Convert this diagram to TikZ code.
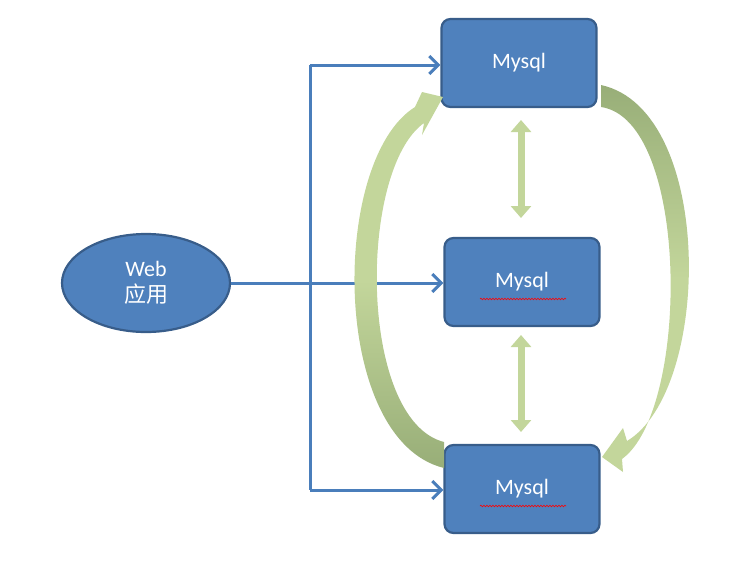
\documentclass[tikz,border=0pt]{standalone}
\usepackage{fontspec}
\setmainfont{Carlito}
\newfontfamily\cjk{Noto Sans CJK SC}
\usetikzlibrary{shapes.geometric,arrows.meta,decorations.pathmorphing}
\definecolor{bfill}{HTML}{4F81BD}
\definecolor{bdraw}{HTML}{385D8A}
\definecolor{lnk}{HTML}{4A7EBB}
\definecolor{lg}{HTML}{C3D69B}
\definecolor{dg}{HTML}{98AE78}
\begin{document}
\begin{tikzpicture}[x=1pt,y=-1pt,
  box/.style={draw=bdraw,line width=2.2pt,fill=bfill,rounded corners=9pt,minimum width=155pt,minimum height=88pt,text=white,font=\fontsize{22}{24}\selectfont},
  conn/.style={draw=lnk,line width=3pt,-{Straight Barb[length=9pt,width=18pt,line width=3pt]}},
  dbl/.style={draw=lg,line width=7pt,{Triangle[length=12pt,width=20pt]}-{Triangle[length=12pt,width=20pt]},shorten <=0pt,shorten >=0pt},
  squig/.style={draw=red,line width=0.6pt,decorate,decoration={snake,amplitude=0.8pt,segment length=3pt}}]
\useasboundingbox (0,0) rectangle (754,565);
\node[ellipse,draw=bdraw,line width=2.2pt,fill=bfill,minimum width=168pt,minimum height=98pt,text=white,align=center,font=\fontsize{22}{26}\selectfont] (web) at (146,283) {Web\\{\cjk 应用}};
\node[box] (m1) at (519,63) {Mysql};
\node[box] (m2) at (522,282) {Mysql};
\node[box] (m3) at (522,489) {Mysql};
\draw[squig] (480,299) -- (566,299);
\draw[squig] (480,506) -- (566,506);
\coordinate (j) at (310,283);
\coordinate (jt) at (310,65);
\coordinate (jb) at (310,490);
\draw[lnk,line width=3pt] (web.east) -- (j) (jt) -- (jb);
\draw[conn] (jt) -- (m1.west|-jt);
\draw[conn] (j) -- (m2.west|-j);
\draw[conn] (jb) -- (m3.west|-jb);
\draw[dbl] (521,120) -- (521,218);
\draw[dbl] (521,335) -- (521,432);
% left curved arrow
\shade[top color=lg,bottom color=dg,middle color=lg]
 (444,468) .. controls (330,440) and (330,160) .. (415,107)
 -- (422,92) -- (443,97) -- (422,135) -- (424,123)
 .. controls (358,170) and (358,420) .. (444,442) -- cycle;
% right curved arrow
\shade[top color=dg,bottom color=lg,middle color=lg]
 (601,85) .. controls (715,110) and (712,390) .. (627,441)
 -- (623,428) -- (602,457) -- (623,472) -- (622,459)
 .. controls (690,410) and (690,120) .. (601,107) -- cycle;
\end{tikzpicture}
\end{document}
